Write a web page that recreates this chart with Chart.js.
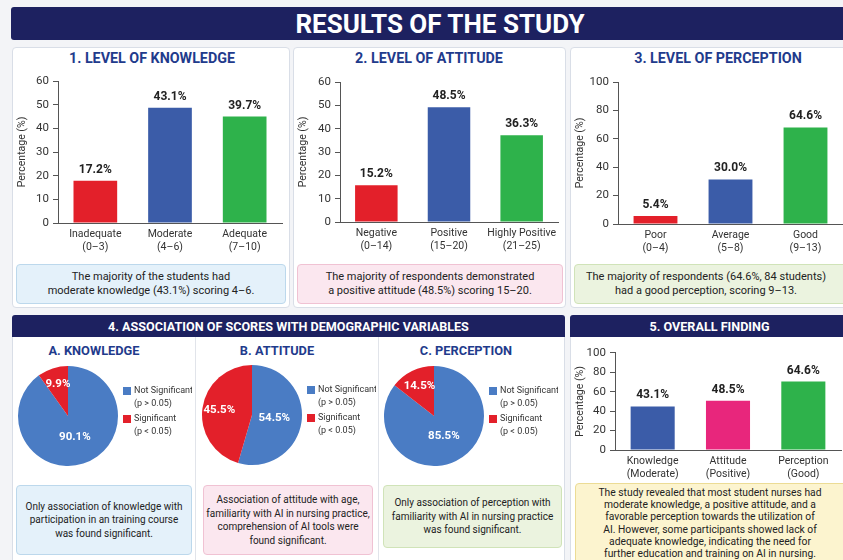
<!DOCTYPE html>
<html>
<head>
<meta charset="utf-8">
<script src="https://cdn.jsdelivr.net/npm/chart.js@4.4.1/dist/chart.umd.min.js"></script>
<style>
  body { margin: 0; width: 843px; height: 560px; overflow: hidden; position: relative;
         background: #f3f4f7; font-family: Roboto, 'Noto Sans', sans-serif; }
  .abs { position: absolute; box-sizing: border-box; }
  .panel { background: #fff; border: 1px solid #d9dee7; border-radius: 4px; }
  .banner { background: #1d2160; color: #fff; font-weight: 700; text-align: center; border-radius: 3px; }
  .ptitle { color: #1f3b8c; font-weight: 700; text-align: center; white-space: nowrap; }
  .note { display: flex; align-items: center; justify-content: center; text-align: center;
          color: #222; border-radius: 4px; border: 1px solid; }
  .blue { background: #e4f1fa; border-color: #bcd8ec; }
  .pink { background: #fbe7ef; border-color: #f0c2d3; }
  .green { background: #ebf3df; border-color: #d0e3b8; }
  .yellow { background: #fcf4cf; border-color: #ecdc95; }
  canvas { position: absolute; }
</style>
</head>
<body>

<div class="abs banner" style="left:11px;top:7px;width:840px;height:33px;line-height:34px;font-size:26px;">
  <span style="position:relative;left:9px;">RESULTS OF THE STUDY</span>
</div>

<div class="abs panel" style="left:12px;top:47px;width:278px;height:261px;"></div>
<div class="abs panel" style="left:293px;top:47px;width:273px;height:261px;"></div>
<div class="abs panel" style="left:570px;top:47px;width:285px;height:261px;"></div>

<div class="abs ptitle" style="left:52px;top:50px;width:200px;font-size:14.3px;line-height:16px;">1. LEVEL OF KNOWLEDGE</div>
<div class="abs ptitle" style="left:329px;top:50px;width:200px;font-size:14.3px;line-height:16px;">2. LEVEL OF ATTITUDE</div>
<div class="abs ptitle" style="left:618px;top:50px;width:200px;font-size:14.3px;line-height:16px;">3. LEVEL OF PERCEPTION</div>

<canvas id="c1" width="272" height="190" style="left:14px;top:70px;"></canvas>
<canvas id="c2" width="268" height="190" style="left:295px;top:70px;"></canvas>
<canvas id="c3" width="271" height="190" style="left:572px;top:70px;"></canvas>

<div class="abs note blue" style="left:16px;top:264px;width:270px;height:40px;font-size:11px;line-height:14px;">
  The majority of the students had<br>moderate knowledge (43.1%) scoring 4–6.</div>
<div class="abs note pink" style="left:297px;top:264px;width:266px;height:40px;font-size:11px;line-height:14px;">
  The majority of respondents demonstrated<br>a positive attitude (48.5%) scoring 15–20.</div>
<div class="abs note green" style="left:574px;top:264px;width:276px;height:40px;font-size:11px;line-height:14px;">
  <span style="position:relative;left:-6px;">The majority of respondents (64.6%, 84 students)<br>had a good perception, scoring 9–13.</span></div>

<!-- section 4 -->
<div class="abs panel" style="left:12px;top:315px;width:553px;height:260px;"></div>
<div class="abs banner" style="left:12px;top:315px;width:553px;height:22px;line-height:23px;font-size:12.6px;border-radius:3px 3px 0 0;">
  4. ASSOCIATION OF SCORES WITH DEMOGRAPHIC VARIABLES</div>
<div class="abs" style="left:195px;top:337px;width:1px;height:230px;background:#e1e4ea;"></div>
<div class="abs" style="left:378px;top:337px;width:1px;height:230px;background:#e1e4ea;"></div>

<div class="abs ptitle" style="left:14px;top:343px;width:160px;font-size:12.8px;line-height:16px;">A. KNOWLEDGE</div>
<div class="abs ptitle" style="left:197px;top:343px;width:160px;font-size:12.8px;line-height:16px;">B. ATTITUDE</div>
<div class="abs ptitle" style="left:386px;top:343px;width:160px;font-size:12.8px;line-height:16px;">C. PERCEPTION</div>

<canvas id="pA" width="178" height="112" style="left:14px;top:360px;"></canvas>
<canvas id="pB" width="178" height="112" style="left:198px;top:359px;"></canvas>
<canvas id="pC" width="178" height="112" style="left:380px;top:360px;"></canvas>

<div class="abs note blue" style="left:16px;top:485px;width:176px;height:70px;font-size:10px;line-height:13.5px;">
  Only association of knowledge with<br>participation in an training course<br>was found significant.</div>
<div class="abs note pink" style="left:203px;top:485px;width:170px;height:70px;font-size:10px;line-height:13.5px;">
  Association of attitude with age,<br>familiarity with AI in nursing practice,<br>comprehension of AI tools were<br>found significant.</div>
<div class="abs note green" style="left:383px;top:485px;width:179px;height:63px;font-size:10px;line-height:13.5px;">
  Only association of perception with<br>familiarity with AI in nursing practice<br>was found significant.</div>

<!-- section 5 -->
<div class="abs panel" style="left:570px;top:315px;width:285px;height:260px;"></div>
<div class="abs banner" style="left:570px;top:315px;width:285px;height:22px;line-height:23px;font-size:12.6px;border-radius:3px 3px 0 0;">
  <span style="position:relative;left:-3px;">5. OVERALL FINDING</span></div>
<canvas id="c5" width="271" height="140" style="left:572px;top:342px;"></canvas>
<div class="abs note yellow" style="left:575px;top:483px;width:280px;height:90px;font-size:10.3px;line-height:12.2px;align-items:flex-start;padding-top:3px;">
  <span style="position:relative;left:-5px;">The study revealed that most student nurses had<br>moderate knowledge, a positive attitude, and a<br>favorable perception towards the utilization of<br>AI. However, some participants showed lack of<br>adequate knowledge, indicating the need for<br>further education and training on AI in nursing.</span></div>

<script>
// --- data ---
// bar heights as drawn; printed percentages as labelled
const knowledgeCats = [['Inadequate', '(0–3)'], ['Moderate', '(4–6)'], ['Adequate', '(7–10)']];
const knowledgeHeights = [17.8, 48.7, 45.0];
const knowledgePct = [17.2, 43.1, 39.7];

const attitudeCats = [['Negative', '(0–14)'], ['Positive', '(15–20)'], ['Highly Positive', '(21–25)']];
const attitudeHeights = [15.8, 49.2, 37.2];
const attitudePct = [15.2, 48.5, 36.3];

const perceptionCats = [['Poor', '(0–4)'], ['Average', '(5–8)'], ['Good', '(9–13)']];
const perceptionHeights = [5.7, 31.4, 68.0];
const perceptionPct = [5.4, 30.0, 64.6];

const overallCats = [['Knowledge', '(Moderate)'], ['Attitude', '(Positive)'], ['Perception', '(Good)']];
const overallHeights = [44.9, 50.8, 70.5];
const overallPct = [43.1, 48.5, 64.6];

const assocLabels = [['Not Significant', '(p > 0.05)'], ['Significant', '(p < 0.05)']];
const knowledgeAssoc = [90.1, 9.9];
const attitudeAssoc = [54.5, 45.5];
const perceptionAssoc = [85.5, 14.5];

const RED = '#e3202a';
const BLUE = '#3b5ca8';
const GREEN = '#2eb24b';
const PINK = '#e8267c';
const PIE_BLUE = '#4a7cc4';

Chart.defaults.font.family = 'Roboto';
Chart.defaults.color = '#333';

// bar value labels on top
const valueLabels = {
    id: 'valueLabels',
    afterDatasetsDraw(chart) {
        const ds = chart.data.datasets[0];
        const ctx = chart.ctx;
        ctx.save();
        ctx.font = 'bold 12px Roboto';
        ctx.fillStyle = '#222';
        ctx.textAlign = 'center';
        ctx.textBaseline = 'bottom';
        chart.getDatasetMeta(0).data.forEach((bar, i) => {
            ctx.fillText(ds.valueText[i].toFixed(1) + '%', bar.x, bar.y - 5);
        });
        ctx.restore();
    }
};

function renderBar(id, cats, heights, pct, colors, yMax, step, box) {
    const ctx = document.getElementById(id).getContext('2d');
    return new Chart(ctx, {
        type: 'bar',
        data: {
            labels: cats,
            datasets: [{
                data: heights,
                valueText: pct,
                backgroundColor: colors,
                barPercentage: 0.78,
                categoryPercentage: 0.75
            }]
        },
        options: {
            responsive: false,
            animation: false,
            layout: { padding: { top: box.top, right: box.right, left: 0, bottom: 0 } },
            plugins: { legend: { display: false }, tooltip: { enabled: false } },
            scales: {
                x: {
                    grid: { display: false, drawTicks: false },
                    border: { display: true, color: '#555' },
                    ticks: { font: { size: 10.5 }, padding: 5, maxRotation: 0, color: '#333' },
                    afterFit: s => { s.height = box.xh; }
                },
                y: {
                    min: 0,
                    max: yMax,
                    ticks: { stepSize: step, font: { size: 11.5 }, padding: 4, color: '#333' },
                    grid: { drawOnChartArea: false, tickLength: 5, color: '#555' },
                    border: { display: true, color: '#555' },
                    title: { display: true, text: 'Percentage (%)', font: { size: 10.5 }, color: '#333', padding: { top: 2, bottom: 0 } },
                    afterFit: s => { s.width = box.yw; }
                }
            }
        },
        plugins: [valueLabels]
    });
}

renderBar('c1', knowledgeCats, knowledgeHeights, knowledgePct, [RED, BLUE, GREEN], 60, 10,
    { top: 11, right: 4, xh: 37, yw: 44 });
renderBar('c2', attitudeCats, attitudeHeights, attitudePct, [RED, BLUE, GREEN], 60, 10,
    { top: 12, right: 5, xh: 38, yw: 45 });
renderBar('c3', perceptionCats, perceptionHeights, perceptionPct, [RED, BLUE, GREEN], 100, 20,
    { top: 12, right: 0, xh: 36, yw: 46 });
renderBar('c5', overallCats, overallHeights, overallPct, [BLUE, PINK, GREEN], 100, 20,
    { top: 7, right: 2, xh: 32, yw: 43 });

// pie slice labels + side legend
const pieDecor = {
    id: 'pieDecor',
    afterDatasetsDraw(chart) {
        const ds = chart.data.datasets[0];
        const ctx = chart.ctx;
        ctx.save();
        ctx.font = 'bold 11.5px Roboto';
        ctx.fillStyle = '#fff';
        ctx.textAlign = 'center';
        ctx.textBaseline = 'middle';
        chart.getDatasetMeta(0).data.forEach((arc, i) => {
            const mid = (arc.startAngle + arc.endAngle) / 2;
            const r = arc.outerRadius * ds.labelRadius[i];
            ctx.fillText(ds.data[i].toFixed(1) + '%', arc.x + Math.cos(mid) * r, arc.y + Math.sin(mid) * r);
        });

        // legend
        ctx.font = '9px Roboto';
        ctx.textAlign = 'left';
        chart.data.labels.forEach((lines, i) => {
            const y0 = 27 + i * 28;
            ctx.fillStyle = ds.backgroundColor[i];
            ctx.fillRect(109, y0, 8, 8);
            ctx.fillStyle = '#333';
            lines.forEach((t, j) => ctx.fillText(t, 120, y0 + 4 + j * 13));
        });
        ctx.restore();
    }
};

function renderPie(id, values) {
    const ctx = document.getElementById(id).getContext('2d');
    return new Chart(ctx, {
        type: 'pie',
        data: {
            labels: assocLabels,
            datasets: [{
                data: values,
                backgroundColor: [PIE_BLUE, RED],
                borderWidth: 0,
                labelRadius: [0.45, 0.66]
            }]
        },
        options: {
            responsive: false,
            animation: false,
            layout: { padding: { left: 4, right: 74, top: 6, bottom: 6 } },
            plugins: { legend: { display: false }, tooltip: { enabled: false } }
        },
        plugins: [pieDecor]
    });
}

renderPie('pA', knowledgeAssoc);
renderPie('pB', attitudeAssoc);
renderPie('pC', perceptionAssoc);
</script>
</body>
</html>
